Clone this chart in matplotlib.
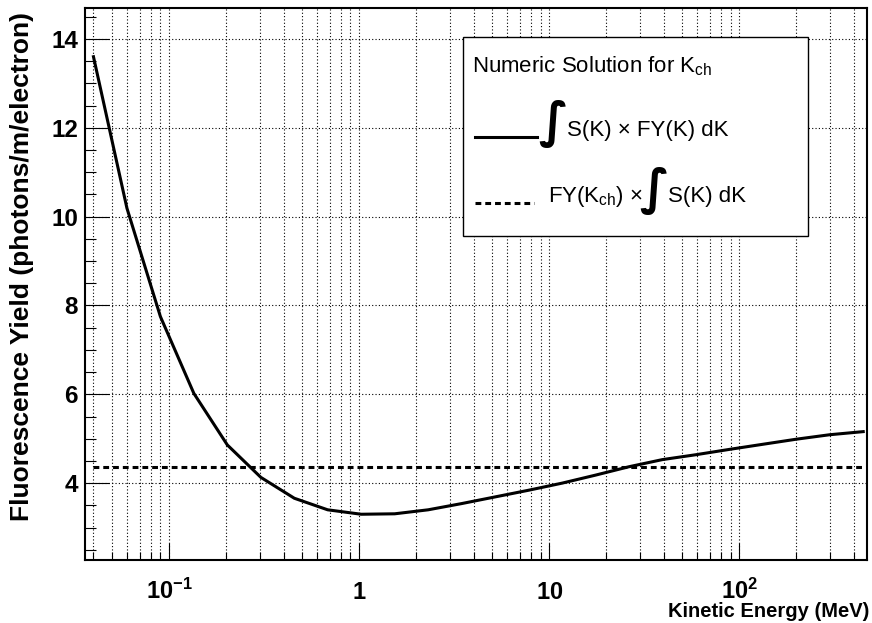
import matplotlib
matplotlib.use('Agg')
import matplotlib.pyplot as plt
from matplotlib.lines import Line2D
from matplotlib.patches import Rectangle
from matplotlib.ticker import FixedLocator, NullFormatter

plt.rcParams['font.family'] = ['Liberation Sans', 'DejaVu Sans']
plt.rcParams['mathtext.fontset'] = 'custom'
plt.rcParams['mathtext.rm'] = 'Liberation Sans'
plt.rcParams['mathtext.bf'] = 'Liberation Sans:bold'

# kinetic energy (MeV) and fluorescence yield
energy = [0.04, 0.06, 0.09, 0.135, 0.2025, 0.304, 0.456, 0.683, 1.025, 1.538,
          2.307, 3.46, 5.19, 7.78, 11.68, 17.5, 26.3, 39.4, 59.1, 88.7,
          133, 200, 299, 449]
fy = [13.6, 10.19, 7.75, 6.02, 4.86, 4.13, 3.66, 3.40, 3.30, 3.31,
      3.40, 3.54, 3.69, 3.84, 4.00, 4.18, 4.37, 4.53, 4.64, 4.76,
      4.875, 4.99, 5.09, 5.16]
fy_kch = 4.36    # FY(K_ch) x int S(K) dK, constant

xmajor = [0.1, 1, 10, 100]
xlabels = [r'$\mathbf{10^{-1}}$', r'$\mathbf{1}$', r'$\mathbf{10}$', r'$\mathbf{10^{2}}$']
yticks = [4, 6, 8, 10, 12, 14]

W, H = 872, 623
def fx(x):      # pixel -> figure fraction
    return x / W
def fyy(y):
    return 1 - y / H

fig = plt.figure(figsize=(8.72, 6.23), dpi=100)
ax = fig.add_axes([fx(85), fyy(560), (867 - 85) / W, (560 - 8.3) / H])

ax.plot(energy, fy, color='black', lw=2.2, solid_joinstyle='miter', zorder=3)
ax.plot([energy[0], energy[-1]], [fy_kch, fy_kch], color='black', lw=2.2,
        linestyle=(0, (1.9, 1.3)), zorder=3)

ax.set_xscale('log')
ax.set_xlim(0.0361, 470)
ax.set_ylim(2.27, 14.69)

minors = [m * 10.0 ** e for e in range(-2, 3) for m in range(2, 10)]
ax.xaxis.set_major_locator(FixedLocator(xmajor))
ax.xaxis.set_minor_locator(FixedLocator(minors))
ax.xaxis.set_minor_formatter(NullFormatter())
ax.set_xticklabels(xlabels)
ax.set_yticks(yticks)
ax.set_yticklabels([str(v) for v in yticks])
ax.yaxis.set_minor_locator(FixedLocator([v / 2 for v in range(4, 30)]))

ax.tick_params(axis='both', which='both', direction='in', width=0.8, colors='black')
ax.tick_params(axis='y', which='major', length=17, pad=5, labelsize=17.5)
ax.tick_params(axis='y', which='minor', length=8)
ax.tick_params(axis='x', which='major', length=12, pad=28, labelsize=17)
ax.tick_params(axis='x', which='minor', length=6)
for lbl in ax.get_yticklabels():
    lbl.set_fontweight('bold')
for lbl in ax.get_xticklabels():
    lbl.set_va('baseline')

ax.grid(True, axis='x', which='both', color='black', lw=0.8, linestyle=(0, (1, 2)))
ax.grid(True, axis='y', which='major', color='black', lw=0.8, linestyle=(0, (1, 2)))
ax.set_axisbelow(True)
for s in ax.spines.values():
    s.set_linewidth(1.5)

# axis titles
fig.text(fx(869), fyy(617), 'Kinetic Energy (MeV)', ha='right', va='baseline',
         fontsize=14.5, fontweight='bold')
fig.text(fx(22), fyy(12), 'Fluorescence Yield (photons/m/electron)', rotation=90,
         ha='center', va='top', fontsize=19, fontweight='bold')

# legend box
fig.add_artist(Rectangle((fx(462.7), fyy(236)), (807.7 - 462.7) / W, (236 - 36.7) / H,
                         transform=fig.transFigure, facecolor='white',
                         edgecolor='black', lw=1.0, zorder=5))
fig.text(fx(471.7), fyy(72.3), r'Numeric Solution for $\mathrm{K}_{\mathrm{ch}}$',
         ha='left', va='baseline', fontsize=16, zorder=6)
fig.add_artist(Line2D([fx(475), fx(536.7)], [fyy(136.7), fyy(136.7)],
                      transform=fig.transFigure, color='black', lw=2.2, zorder=6))
fig.text(fx(553), fyy(124), '\u222b', ha='center', va='center', fontsize=35,
         family='DejaVu Sans', fontweight='bold', zorder=6)
fig.text(fx(567), fyy(135.7), 'S(K) \u00d7 FY(K) dK', ha='left', va='baseline',
         fontsize=16, zorder=6)
fig.add_artist(Line2D([fx(475), fx(534)], [fyy(203), fyy(203)],
                      transform=fig.transFigure, color='black', lw=2.2,
                      linestyle=(0, (1.9, 1.3)), zorder=6))
fig.text(fx(548.3), fyy(202), 'FY($\\mathrm{K}_{\\mathrm{ch}}$) \u00d7', ha='left',
         va='baseline', fontsize=16, zorder=6)
fig.text(fx(654), fyy(191), '\u222b', ha='center', va='center', fontsize=35,
         family='DejaVu Sans', fontweight='bold', zorder=6)
fig.text(fx(668), fyy(202), 'S(K) dK', ha='left', va='baseline', fontsize=16, zorder=6)

fig.savefig('out.png', dpi=100)
